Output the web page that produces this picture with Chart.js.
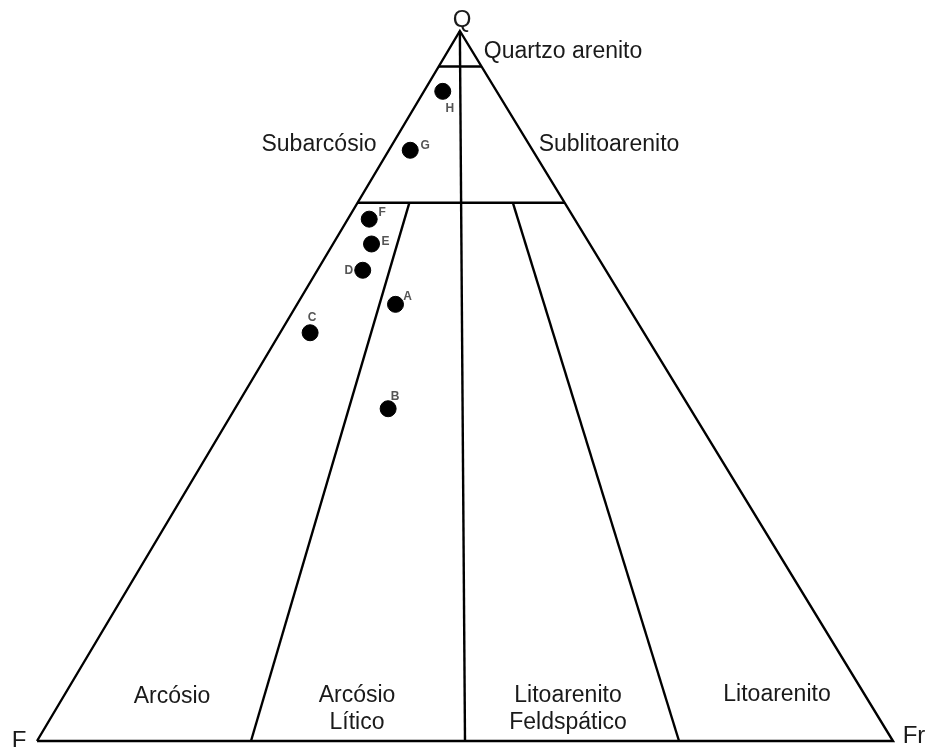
<!DOCTYPE html>
<html>
<head>
<meta charset="utf-8">
<script src="https://cdn.jsdelivr.net/npm/chart.js@4.4.1/dist/chart.umd.min.js"></script>
<style>
  body { margin: 0; background: #fff; }
  canvas { display: block; }
</style>
</head>
<body>
<canvas id="qfl" width="927" height="747"></canvas>
<script>
// amostras (Q, F, Fr em %)
const amostras   = ['A', 'B', 'C', 'D', 'E', 'F', 'G', 'H'];
const quartzo    = [61.5, 46.8, 57.5, 66.3, 70, 73.5, 83.2, 91.5];
const feldspato  = [27, 35.3, 39, 28.4, 25.5, 24, 14.3, 6.3];
const fragmentos = [11.5, 17.9, 3.5, 5.3, 4.5, 2.5, 2.5, 2.2];

// limites da classificacao (como desenhados na figura)
const limitesQ   = [95, 75.8];
const razoesFFr  = [[3, 1], [1, 1], [1, 3]];

const SKEW = 0.494;
function tern(q, f, fr) {
  const s = q + f + fr;
  q = q / s * 100; fr = fr / s * 100;
  return { x: fr + SKEW * q, y: q };
}

function lineDs(pts) {
  return {
    type: 'line', data: pts, showLine: true, borderColor: '#000', borderWidth: 2.4,
    pointRadius: 0, fill: false, tension: 0, order: 2
  };
}

const datasets = [];
// contorno
datasets.push(lineDs([tern(0, 100, 0), tern(0, 0, 100), tern(100, 0, 0), tern(0, 100, 0)]));
// linhas de Q
limitesQ.forEach(q => {
  datasets.push(lineDs([tern(q, 100 - q, 0), tern(q, 0, 100 - q)]));
});
// linhas F:Fr
razoesFFr.forEach(([a, b]) => {
  const topQ = (a === b) ? 100 : limitesQ[1];
  const r = (100 - topQ);
  datasets.push(lineDs([
    tern(topQ, r * a / (a + b), r * b / (a + b)),
    tern(0, 100 * a / (a + b), 100 * b / (a + b))
  ]));
});
// amostras
datasets.push({
  type: 'scatter',
  data: amostras.map((n, i) => tern(quartzo[i], feldspato[i], fragmentos[i])),
  backgroundColor: '#000', borderColor: '#000', pointRadius: 8, pointHoverRadius: 8, order: 1
});

const offsets = {
  A: [12, -8], B: [7, -12], C: [2, -15], D: [-14, 0], E: [14, -2],
  F: [13, -6], G: [15, -5], H: [7, 17]
};

const textos = [
  { t: 'Q', x: 462, y: 20, s: 24 },
  { t: 'F', x: 19, y: 741, s: 24 },
  { t: 'Fr', x: 914, y: 736, s: 24 },
  { t: 'Quartzo arenito', x: 563, y: 52, s: 23 },
  { t: 'Subarcósio', x: 319, y: 145, s: 23 },
  { t: 'Sublitoarenito', x: 609, y: 145, s: 23 },
  { t: 'Arcósio', x: 172, y: 697, s: 23 },
  { t: 'Arcósio', x: 357, y: 696, s: 23 },
  { t: 'Lítico', x: 357, y: 723, s: 23 },
  { t: 'Litoarenito', x: 568, y: 696, s: 23 },
  { t: 'Feldspático', x: 568, y: 723, s: 23 },
  { t: 'Litoarenito', x: 777, y: 695, s: 23 }
];

const rotulos = {
  id: 'rotulos',
  afterDatasetsDraw(chart) {
    const ctx = chart.ctx;
    ctx.save();
    ctx.textAlign = 'center';
    ctx.textBaseline = 'middle';
    ctx.fillStyle = '#1a1a1a';
    textos.forEach(o => {
      ctx.font = o.s + 'px "Liberation Sans", Arial, sans-serif';
      ctx.fillText(o.t, o.x, o.y);
    });
    const meta = chart.getDatasetMeta(chart.data.datasets.length - 1);
    ctx.font = 'bold 12px "Liberation Sans", Arial, sans-serif';
    ctx.fillStyle = '#555';
    meta.data.forEach((el, i) => {
      const o = offsets[amostras[i]];
      ctx.fillText(amostras[i], el.x + o[0], el.y + o[1]);
    });
    ctx.restore();
  }
};

new Chart(document.getElementById('qfl'), {
  type: 'scatter',
  data: { datasets: datasets },
  options: {
    responsive: false,
    animation: false,
    layout: { padding: 0, autoPadding: false },
    plugins: { legend: { display: false }, tooltip: { enabled: false } },
    scales: {
      x: { type: 'linear', display: false, min: -4.322, max: 103.97 },
      y: { type: 'linear', display: false, min: -0.845, max: 104.366 }
    }
  },
  plugins: [rotulos]
});
</script>
</body>
</html>
